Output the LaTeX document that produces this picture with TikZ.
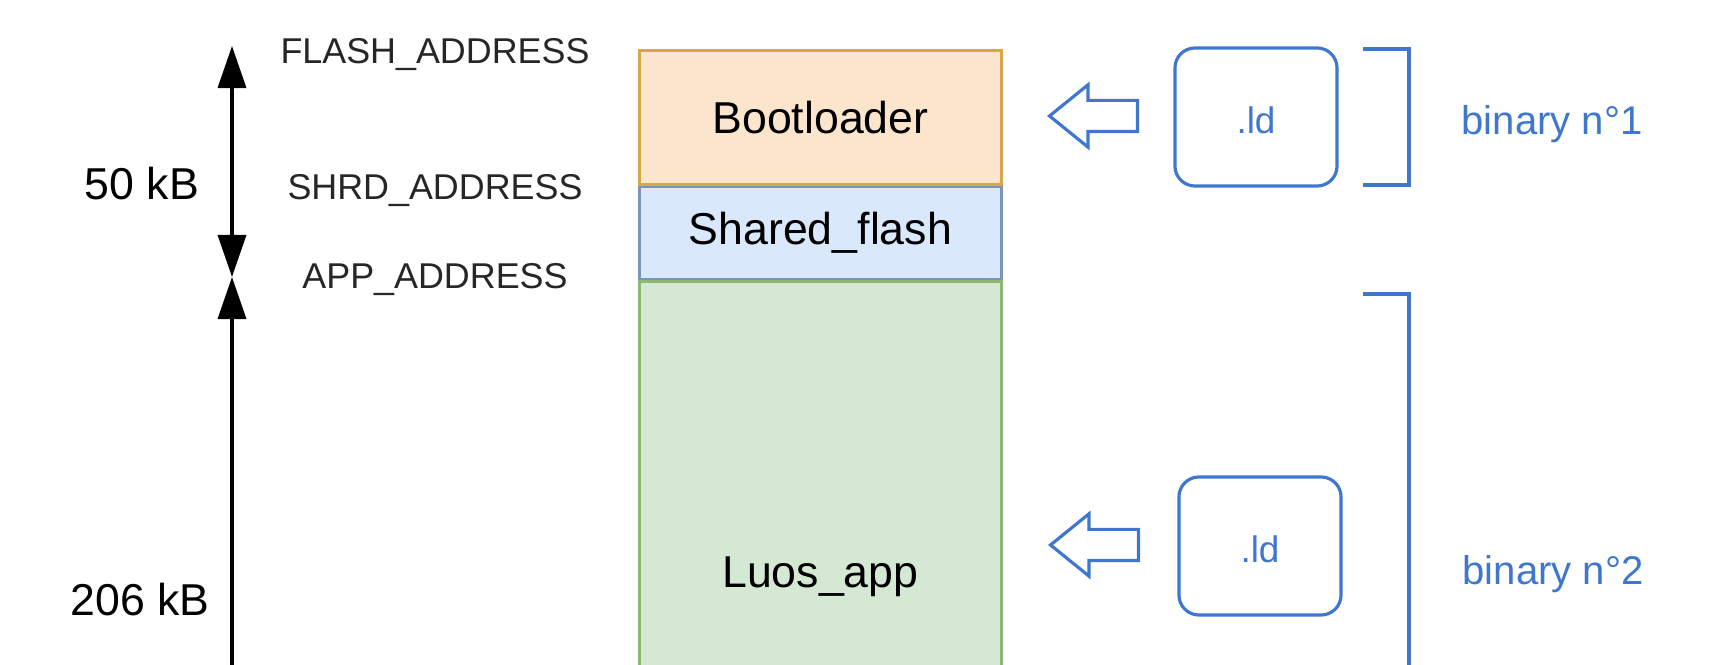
\documentclass[tikz,border=0pt]{standalone}
\usepackage{fontspec}
\setmainfont{Liberation Sans}
\usetikzlibrary{arrows.meta,shapes.arrows}
\definecolor{bootfill}{HTML}{FCE5CD}
\definecolor{bootline}{HTML}{D6A84A}
\definecolor{shrdfill}{HTML}{DAE8FC}
\definecolor{shrdline}{HTML}{7A94BC}
\definecolor{appfill}{HTML}{D5E8D4}
\definecolor{appline}{HTML}{8DB870}
\definecolor{ldblue}{HTML}{3F77CF}
\begin{document}
\begin{tikzpicture}[x=0.01cm, y=-0.01cm,
		seg/.style={draw, line width=0.75pt, minimum width=3.62cm, inner sep=0pt, anchor=north west, font=\fontsize{12.7}{15}\selectfont},
		ldbox/.style={draw=ldblue, line width=0.9pt, rounded corners=0.2cm, minimum width=1.62cm, minimum height=1.38cm, text=ldblue, text height=9.6pt, text depth=0pt, font=\fontsize{10.5}{12}\selectfont},
		hollow/.style={single arrow, draw=ldblue, line width=0.9pt, shape border rotate=180, text height=0.28cm, text depth=0pt, minimum height=0.88cm, single arrow head extend=0.155cm, single arrow tip angle=78, inner sep=0pt, anchor=tip},
		bracket/.style={draw=ldblue, line width=0.9pt},
		addr/.style={text=black!85, font=\fontsize{10.2}{12}\selectfont},
		size/.style={font=\fontsize{12.7}{15}\selectfont},
		dim/.style={line width=1pt}]
		\useasboundingbox (0,0) rectangle (1720,665);
		\clip (0,0) rectangle (1720,665);
		
		% memory map
		\node[seg, fill=bootfill, draw=bootline, minimum height=1.34cm] (boot) at (638,49) {Bootloader};
		\node[seg, fill=shrdfill, draw=shrdline, minimum height=0.92cm] (shrd) at (boot.south west) {Shared\_flash};
		\node[seg, fill=appfill, draw=appline, minimum height=5.9cm] (app) at (shrd.south west) {Luos\_app};
		
		% addresses and sizes
		\node[addr] (flashaddr) at (435,55) {FLASH\_ADDRESS};
		\node[addr] (shrdaddr) at (435,191) {SHRD\_ADDRESS};
		\node[addr] (appaddr) at (435,280) {APP\_ADDRESS};
		\node[size] (size1) at (142,184) {50 kB};
		\node[size] (size2) at (140,600) {206 kB};
		
		\coordinate (top) at (232,46);
		\coordinate (mid) at (232,277);
		\coordinate (low) at (232,720);
		\draw[dim, {Triangle[length=0.42cm,width=0.28cm]}-{Triangle[length=0.42cm,width=0.28cm]}] (top) -- (mid);
		\draw[dim, {Triangle[length=0.42cm,width=0.28cm]}-] (mid) -- (low);
		
		% linker scripts
		\node[hollow] (in1) at (1047,116) {};
		\node[ldbox] (ld1) at (1256,117) {.ld};
		\draw[bracket] (1363,49) -- (1409,49) -- (1409,185) -- (1363,185);
		\node[text=ldblue, font=\fontsize{11.4}{13}\selectfont] (bin1) at (1552,124) {binary n°1};
		
		\node[hollow] (in2) at (1048,545) {};
		\node[ldbox] (ld2) at (1260,546) {.ld};
		\draw[bracket] (1363,294) -- (1409,294) -- (1409,720);
		\node[text=ldblue, font=\fontsize{11.4}{13}\selectfont] (bin2) at (1553,574) {binary n°2};
	\end{tikzpicture}
\end{document}
